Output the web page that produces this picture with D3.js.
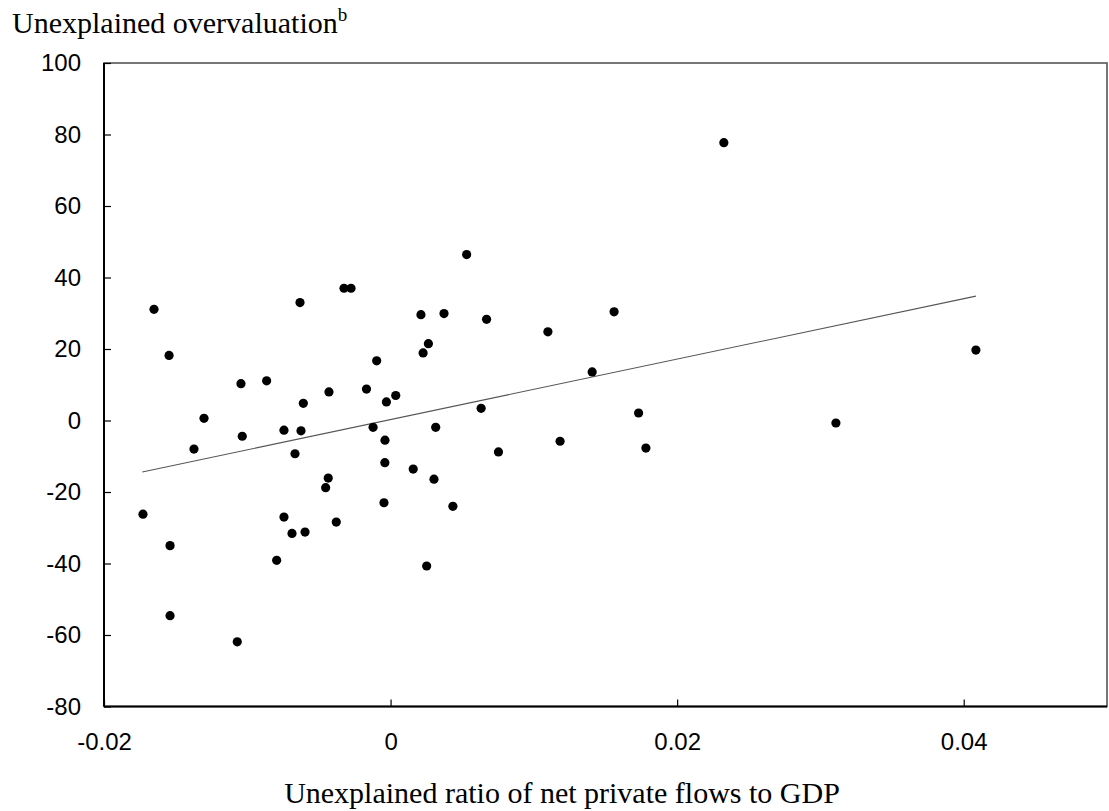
<!DOCTYPE html>
<html>
<head>
<meta charset="utf-8">
<script src="https://cdn.jsdelivr.net/npm/d3@7"></script>
<style>
  html, body { margin: 0; padding: 0; background: #fff; }
  svg { display: block; }
</style>
</head>
<body>
<svg id="chart" width="1109" height="811"></svg>
<script>
// ---- data ----
const xValues = [
  -0.01728, -0.01651, -0.01546, -0.01539, -0.01539, -0.01372, -0.01302, -0.01070,
  -0.01044, -0.01035, -0.00865, -0.00744, -0.00744, -0.00688, -0.00667, -0.00632,
  -0.00625, -0.00609, -0.00597, -0.00795, -0.00453, -0.00435, -0.00430, -0.00379,
  -0.00325, -0.00276, -0.00168, -0.00122, -0.00097, -0.00046, -0.00039, -0.00040,
  -0.00029, 0.00036, 0.00158, 0.00212, 0.00227, 0.00252, 0.00264, 0.00303,
  0.00315, 0.00373, 0.00435, 0.00531, 0.00632, 0.00670, 0.00753, 0.01098,
  0.01183, 0.01407, 0.01560, 0.01731, 0.01782, 0.02326, 0.03108, 0.04085
];
const yValues = [
  -26.2, 31.1, 18.2, -35.0, -54.6, -8.0, 0.6, -61.9,
  10.3, -4.4, 11.1, -2.7, -27.0, -31.6, -9.3, 33.0,
  -2.9, 4.8, -31.2, -39.1, -18.8, -16.1, 8.0, -28.4,
  37.0, 37.0, 8.8, -1.9, 16.7, -23.0, -5.5, -11.8,
  5.2, 7.0, -13.6, 29.6, 18.9, -40.7, 21.5, -16.4,
  -1.9, 29.9, -24.0, 46.4, 3.4, 28.3, -8.8, 24.8,
  -5.8, 13.6, 30.4, 2.1, -7.7, 77.7, -0.7, 19.7
];
const trendX = [-0.01733, 0.04085];
const trendY = [-14.4, 34.8];
const xTicks = [-0.02, 0, 0.02, 0.04];
const xTickLabels = ["-0.02", "0", "0.02", "0.04"];
const yTicks = [-80, -60, -40, -20, 0, 20, 40, 60, 80, 100];
const yTickLabels = ["-80", "-60", "-40", "-20", "0", "20", "40", "60", "80", "100"];
const yTitle = "Unexplained overvaluation";
const yTitleSup = "b";
const xTitle = "Unexplained ratio of net private flows to GDP";

// ---- layout ----
const svg = d3.select("#chart");
const L = 104, R = 1107, T = 63, B = 706.5;
const x = d3.scaleLinear().domain([-0.02, 0.05]).range([L, R]);
const y = d3.scaleLinear().domain([-80, 100]).range([B, T]);

// plot frame
svg.append("rect")
  .attr("x", L).attr("y", T).attr("width", R - L).attr("height", B - T)
  .attr("fill", "none").attr("stroke", "#555").attr("stroke-width", 1.6);

// axes
const yAxis = d3.axisLeft(y).tickValues(yTicks)
  .tickFormat((d, i) => yTickLabels[i]).tickSize(-7).tickPadding(23);
const gy = svg.append("g").attr("transform", `translate(${L},0)`).call(yAxis);
gy.select(".domain").remove();
gy.selectAll(".tick line").attr("stroke", "#000").attr("stroke-width", 1.2);
gy.selectAll(".tick text").attr("font-family", "Liberation Sans, Arial, sans-serif")
  .attr("font-size", 24).attr("fill", "#000");

const xAxis = d3.axisBottom(x).tickValues(xTicks)
  .tickFormat((d, i) => xTickLabels[i]).tickSize(-7).tickPadding(26);
const gx = svg.append("g").attr("transform", `translate(0,${B})`).call(xAxis);
gx.select(".domain").remove();
gx.selectAll(".tick line").attr("stroke", "#000").attr("stroke-width", 1.2);
gx.selectAll(".tick text").attr("font-family", "Liberation Sans, Arial, sans-serif")
  .attr("font-size", 24).attr("fill", "#000");

// axis lines (left and bottom, black)
svg.append("line").attr("x1", L).attr("x2", L).attr("y1", T).attr("y2", B)
  .attr("stroke", "#000").attr("stroke-width", 2);
svg.append("line").attr("x1", L).attr("x2", R).attr("y1", B).attr("y2", B)
  .attr("stroke", "#000").attr("stroke-width", 2);

// trend line
const line = d3.line().x(d => x(d[0])).y(d => y(d[1]));
svg.append("path")
  .datum(trendX.map((v, i) => [v, trendY[i]]))
  .attr("d", line).attr("fill", "none").attr("stroke", "#555").attr("stroke-width", 1.1);

// points
svg.append("g").selectAll("circle")
  .data(xValues.map((v, i) => [v, yValues[i]]))
  .join("circle")
  .attr("cx", d => x(d[0])).attr("cy", d => y(d[1])).attr("r", 4.6)
  .attr("fill", "#000");

// titles
const yt = svg.append("text").attr("x", 12).attr("y", 33)
  .attr("font-family", "Liberation Serif, Times New Roman, serif")
  .attr("font-size", 30).attr("fill", "#000");
yt.append("tspan").text(yTitle);
yt.append("tspan").text(yTitleSup).attr("font-size", 19).attr("dy", -12);

svg.append("text").attr("x", 562).attr("y", 803)
  .attr("text-anchor", "middle")
  .attr("font-family", "Liberation Serif, Times New Roman, serif")
  .attr("font-size", 30).attr("fill", "#000")
  .text(xTitle);
</script>
</body>
</html>
